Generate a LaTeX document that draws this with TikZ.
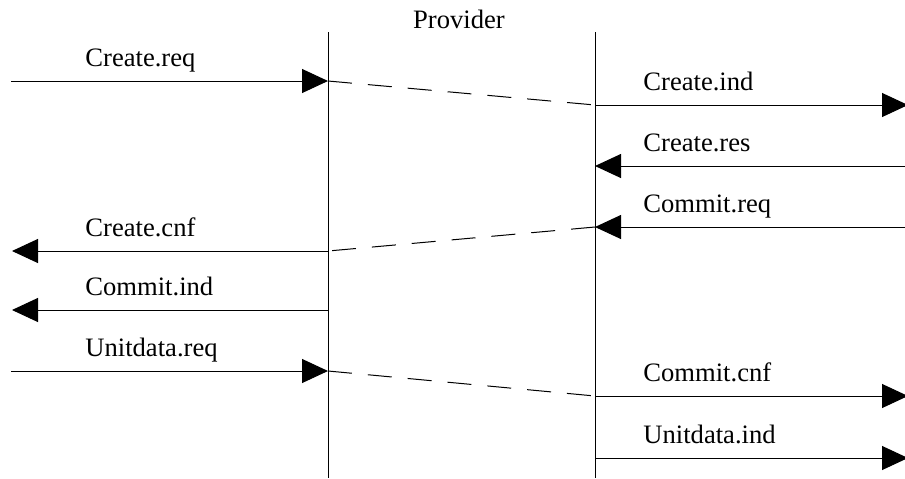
\documentclass[tikz,border=0pt]{standalone}
\usepackage{fontspec}
\setmainfont{Liberation Serif}
\usetikzlibrary{arrows.meta}

\begin{document}
\begin{tikzpicture}[x=0.5pt,y=-0.5pt,
    msg/.style={draw,line width=0.5pt,-{Triangle[length=13pt,width=12pt]}},
    link/.style={draw,line width=0.5pt,dash pattern=on 12pt off 8pt},
    lifeline/.style={draw,line width=0.5pt}]

      \clip (0,0) rectangle (905,478);

      % lifelines
      \coordinate (lt) at (328,32);
      \coordinate (lb) at (328,478);
      \coordinate (rt) at (595,32);
      \coordinate (rb) at (595,478);
      \path (lt) edge[lifeline] (lb);
      \path (rt) edge[lifeline] (rb);

      % message ends
      \begin{scope}
        \coordinate (a1) at (11,81);   \coordinate (b1) at (328,81);
        \coordinate (c1) at (595,105); \coordinate (d1) at (908,105);
        \coordinate (d2) at (905,166); \coordinate (c2) at (595,166);
        \coordinate (d3) at (905,227); \coordinate (c3) at (595,227);
        \coordinate (b4) at (328,251); \coordinate (a4) at (12,251);
        \coordinate (b5) at (328,310); \coordinate (a5) at (12,310);
        \coordinate (a6) at (11,371);  \coordinate (b6) at (328,371);
        \coordinate (c6) at (595,396); \coordinate (d6) at (908,396);
        \coordinate (c7) at (595,458); \coordinate (d7) at (908,458);
      \end{scope}

      \begin{scope}[every node/.style={font=\fontsize{13.3}{16}\selectfont,inner sep=0pt,anchor=base west}]
        \node[anchor=base] (prov) at (459,28) {Provider};
        \node (creq) at (85,66)  {Create.req};
        \node (cind) at (643,90) {Create.ind};
        \node (cres) at (643,151) {Create.res};
        \node (kreq) at (643,212) {Commit.req};
        \node (ccnf) at (85,236) {Create.cnf};
        \node (kind) at (85,295) {Commit.ind};
        \node (ureq) at (85,356) {Unitdata.req};
        \node (kcnf) at (643,381) {Commit.cnf};
        \node (uind) at (643,443) {Unitdata.ind};
      \end{scope}

      % messages
      \path (a1) edge[msg] (b1);
      \path (b1) edge[link] (c1);
      \path (c1) edge[msg] (d1);
      \path (d2) edge[msg] (c2);
      \path (d3) edge[msg] (c3);
      \path (c3) edge[link] (b4);
      \path (b4) edge[msg] (a4);
      \path (b5) edge[msg] (a5);
      \path (a6) edge[msg] (b6);
      \path (b6) edge[link] (c6);
      \path (c6) edge[msg] (d6);
      \path (c7) edge[msg] (d7);

    \end{tikzpicture}
\end{document}
